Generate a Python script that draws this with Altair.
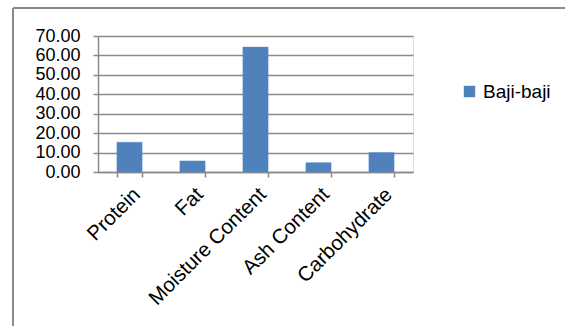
import altair as alt
import pandas as pd

categories = ["Protein", "Fat", "Moisture Content", "Ash Content", "Carbohydrate"]
values = [15.3, 5.7, 64.3, 4.8, 10.0]
series = ["Baji-baji"] * 5
y_ticks = [0, 10, 20, 30, 40, 50, 60, 70]

df = pd.DataFrame({"cat": categories, "val": values, "series": series})

FONT = "Liberation Sans"
GRAY = "#8a8a8a"

bars = alt.Chart(df).mark_bar(color="#4F81BD", stroke="#5b8fcc", strokeWidth=0.5).encode(
    x=alt.X("cat:N", sort=categories, title=None,
            scale=alt.Scale(paddingInner=0.6, paddingOuter=0.3),
            axis=alt.Axis(labelAngle=-45, labelFont=FONT, labelFontSize=20.5, labelColor="#000",
                          tickBand="extent", tickSize=5, tickColor=GRAY, tickWidth=1.5,
                          domainColor=GRAY, domainWidth=1.5, labelPadding=7, grid=False,
                          labelOverlap=False)),
    y=alt.Y("val:Q", title=None,
            scale=alt.Scale(domain=[0, 70], nice=False),
            axis=alt.Axis(values=y_ticks, format=".2f", labelFont=FONT, labelFontSize=18,
                          labelColor="#000", tickSize=5, tickColor=GRAY, tickWidth=1.5,
                          domainColor=GRAY, domainWidth=1.5, gridColor=GRAY, gridWidth=1.5,
                          labelPadding=13, labelOverlap=False)),
    fill=alt.Fill("series:N", scale=alt.Scale(range=["#4F81BD"]),
                  legend=alt.Legend(title=None, orient="none", legendX=362, legendY=46,
                                    symbolType="square", symbolSize=130, labelFont=FONT,
                                    labelFontSize=19, labelColor="#000", symbolStrokeWidth=0,
                                    labelOffset=4, padding=0)),
)

frame_top = alt.Chart(df).mark_rule(color=GRAY, strokeWidth=2).encode(
    x=alt.value(-85), x2=alt.value(480), y=alt.value(-28)
)
frame_left = alt.Chart(df).mark_rule(color=GRAY, strokeWidth=2).encode(
    x=alt.value(-85), y=alt.value(-28), y2=alt.value(300)
)

chart = alt.layer(bars, frame_top, frame_left).properties(
    width=315, height=136,
    autosize=alt.AutoSizeParams(type="none"),
    padding={"left": 98, "top": 36, "right": 152, "bottom": 154},
).configure_view(stroke=None).configure(background="white")

chart.save("out.html", embed_options={"renderer": "svg", "actions": False})
